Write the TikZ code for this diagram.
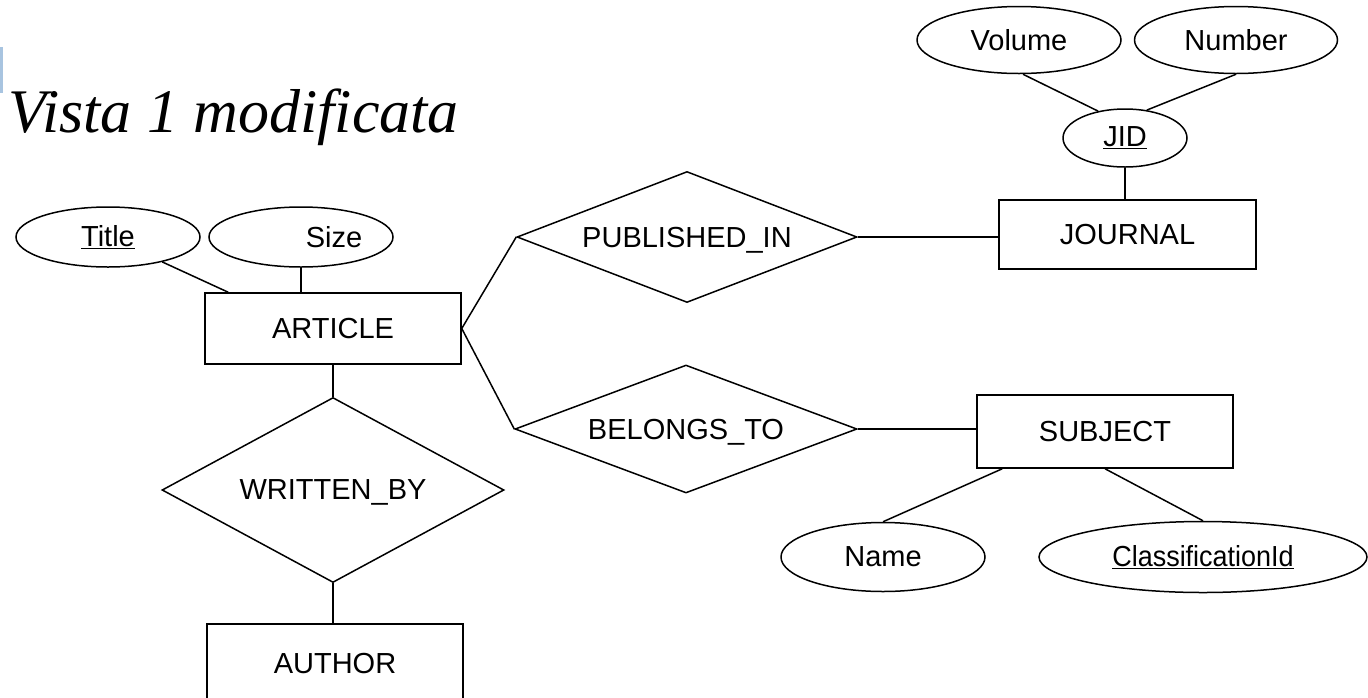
\documentclass[tikz,border=0pt]{standalone}
\usepackage{fontspec}
\setmainfont{Liberation Sans}
\newfontfamily\titlefont{Liberation Serif}
\usetikzlibrary{shapes.geometric}
\newcommand\lblfont{\fontsize{29}{34}\selectfont}
\definecolor{barblue}{HTML}{A8C4E0}
\begin{document}
\begin{tikzpicture}[x=1pt,y=-1pt,line width=1.5pt,
  ent/.style={draw,rectangle,inner sep=0pt,minimum width=256pt,minimum height=71pt,font=\lblfont},
  rel/.style={draw,diamond,inner sep=0pt,text depth=0pt,font=\lblfont},
  attr/.style={draw,ellipse,inner sep=0pt,font=\lblfont},
  conn/.style={draw,line width=1.5pt}]
\useasboundingbox (0,0) rectangle (1368,697);
\clip (0,0) rectangle (1368,697);
% side bar and title
\fill[barblue] (0,47) rectangle (2.5,93);
\node[anchor=base west,inner sep=0pt,font={\titlefont\itshape\fontsize{62}{70}\selectfont}] (ttl) at (8,132) {Vista 1 modificata};
% entities
\node[ent] (article) at (333,328.5) {ARTICLE};
\node[ent,minimum width=256pt,minimum height=80pt] (author) at (335,664) {AUTHOR};
\node[ent,minimum width=257pt,minimum height=69pt] (journal) at (1127.5,234.5) {JOURNAL};
\node[ent,minimum width=256pt,minimum height=73pt] (subject) at (1105,431.5) {SUBJECT};
% relationships
\node[rel,minimum width=342pt,minimum height=185pt,shape aspect=1.85] (wb) at (333,490) {WRITTEN\_BY};
\node[rel,minimum width=340pt,minimum height=131pt,shape aspect=2.6] (pub) at (687,237) {PUBLISHED\_IN};
\node[rel,minimum width=342pt,minimum height=128pt,shape aspect=2.67] (bel) at (686,429) {BELONGS\_TO};
% attributes
\node[attr,minimum width=184pt,minimum height=60pt] (title) at (108,237) {\underline{Title}};
\node[attr,minimum width=184pt,minimum height=60pt] (size) at (301,237) {\hspace{66pt}Size};
\node[attr,minimum width=204pt,minimum height=67pt] (volume) at (1019,40) {Volume};
\node[attr,minimum width=203pt,minimum height=67pt] (number) at (1236,40) {Number};
\node[attr,minimum width=124pt,minimum height=58pt] (jid) at (1125,138) {\underline{JID}};
\node[attr,minimum width=204pt,minimum height=69pt] (name) at (883,557) {Name};
\node[attr,minimum width=328pt,minimum height=71pt] (classid) at (1203,557) {\underline{\scalebox{0.93}[1]{ClassificationId}}};
% connectors
\draw[conn] ([xshift=24pt]article.north west) -- (title);
\draw[conn] (size.south) -- (size.south |- article.north);
\draw[conn] (article.south) -- (wb.north);
\draw[conn] (wb.south) -- (wb.south |- author.north);
\draw[conn] (article.east) -- (pub.west);
\draw[conn] (article.east) -- (bel.west);
\draw[conn] (pub.east) -- (pub.east -| journal.west);
\draw[conn] (bel.east) -- (bel.east -| subject.west);
\draw[conn] (jid.south) -- (jid.south |- journal.north);
\draw[conn] ([xshift=4pt]volume.south) -- (jid.135);
\draw[conn] (number.south) -- (jid.52);
\draw[conn] ([xshift=26pt]subject.south west) -- (name.north);
\draw[conn] (subject.south) -- (classid.north);
\end{tikzpicture}
\end{document}
